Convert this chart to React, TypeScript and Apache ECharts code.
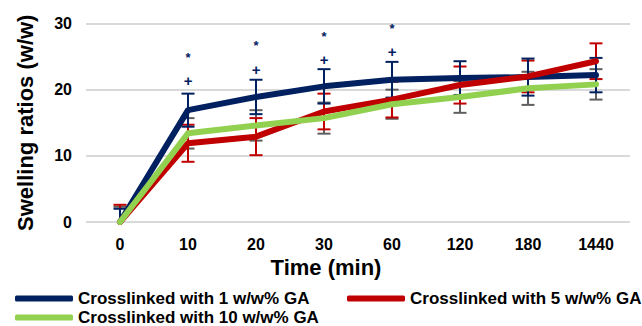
import React, { useEffect, useRef } from "react";
import * as echarts from "echarts";

const categories = ["0", "10", "20", "30", "60", "120", "180", "1440"];
const seriesNames = [
  "Crosslinked with 1 w/w% GA",
  "Crosslinked with 5 w/w% GA",
  "Crosslinked with 10 w/w% GA",
];
const ga1 = [0, 16.9, 18.9, 20.5, 21.5, 21.75, 21.9, 22.2];
const ga5 = [0, 11.9, 12.9, 16.7, 18.5, 20.7, 22.0, 24.3];
const ga10 = [0, 13.4, 14.6, 15.7, 17.8, 18.9, 20.2, 20.8];
const err1 = [2.0, 2.5, 2.6, 2.6, 2.7, 2.55, 2.8, 2.6];
const err5 = [2.6, 2.8, 2.8, 2.7, 2.7, 2.8, 2.4, 2.7];
const err10 = [2.3, 2.3, 2.3, 2.35, 2.2, 2.4, 2.5, 2.3];
const plusY = [null, 21.45, 23.1, 24.6, 25.7, null, null, null];
const starY = [null, 24.9, 26.6, 28.1, 29.3, null, null, null];
const yTicks = [0, 10, 20, 30];

const FONT = "Liberation Sans, Arial, sans-serif";
const colors = ["#002060", "#C00000", "#92D050"];
const errColors = ["#002060", "#C00000", "#5f5f5f"];

function errSeries(values: number[], errs: number[], color: string, idx: number) {
  return {
    type: "custom",
    name: "err" + idx,
    z: 1,
    silent: true,
    data: values.map((v, i) => [i, v, errs[i]]),
    renderItem: (params: any, api: any) => {
      const x = api.value(0);
      const v = api.value(1);
      const e = api.value(2);
      const hi = api.coord([x, v + e]);
      const lowVal = v - e;
      const low = api.coord([x, Math.max(lowVal, 0)]);
      const cw = 6.5;
      const st = { stroke: color, lineWidth: 2 };
      const children: any[] = [
        { type: "line", shape: { x1: hi[0], y1: hi[1], x2: low[0], y2: low[1] }, style: st },
        { type: "line", shape: { x1: hi[0] - cw, y1: hi[1], x2: hi[0] + cw, y2: hi[1] }, style: st },
      ];
      if (lowVal >= 0) {
        children.push({ type: "line", shape: { x1: low[0] - cw, y1: low[1], x2: low[0] + cw, y2: low[1] }, style: st });
      }
      return { type: "group", children };
    },
  };
}

function markSeries(vals: (number | null)[], text: string, size: number, name: string) {
  return {
    type: "custom",
    name,
    z: 5,
    silent: true,
    data: vals.map((v, i) => (v == null ? null : [i, v])).filter((d) => d !== null),
    renderItem: (params: any, api: any) => {
      const p = api.coord([api.value(0), api.value(1)]);
      return {
        type: "text",
        x: p[0],
        y: p[1],
        style: {
          text,
          fill: "#002060",
          font: `bold ${size}px ${FONT}`,
          align: "center",
          verticalAlign: "middle",
        },
      };
    },
  };
}

function lineSeries(name: string, data: number[], color: string, z: number) {
  return {
    type: "line",
    name,
    data,
    z,
    symbol: "none",
    lineStyle: { color, width: 6, cap: "round", join: "round" },
    itemStyle: { color },
  };
}

export default function App() {
  const ref = useRef<HTMLDivElement>(null);
  useEffect(() => {
    if (!ref.current) return;
    const chart = echarts.init(ref.current, null, { renderer: "svg" });
    const legendCommon = {
      orient: "horizontal",
      icon: "roundRect",
      itemWidth: 58,
      itemHeight: 6,
      itemGap: 5,
      padding: 0,
      textStyle: { fontFamily: FONT, fontWeight: "bold", fontSize: 17, color: "#000", lineHeight: 17 },
    };
    chart.setOption({
      animation: false,
      color: colors,
      grid: { left: 86, right: 12, top: 23.5, bottom: 104 },
      legend: [
        { ...legendCommon, left: 15, top: 290, data: [seriesNames[0]] },
        { ...legendCommon, left: 347, top: 290, data: [seriesNames[1]] },
        { ...legendCommon, left: 15, top: 309, data: [seriesNames[2]] },
      ],
      xAxis: {
        type: "category",
        data: categories,
        boundaryGap: true,
        axisLine: { show: false },
        axisTick: { show: false },
        axisLabel: { fontFamily: FONT, fontWeight: "bold", fontSize: 16, color: "#000", margin: 14 },
        name: "Time (min)",
        nameLocation: "middle",
        nameGap: 30,
        nameTextStyle: { fontFamily: FONT, fontWeight: "bold", fontSize: 22, color: "#000", padding: [0, 64, 0, 0] },
      },
      yAxis: {
        type: "value",
        min: yTicks[0],
        max: yTicks[yTicks.length - 1],
        interval: 10,
        axisLine: { show: false },
        axisTick: { show: false },
        splitLine: { lineStyle: { color: "#d9d9d9", width: 2 } },
        axisLabel: { fontFamily: FONT, fontWeight: "bold", fontSize: 16, color: "#000", margin: 14 },
        name: "Swelling ratios (w/w)",
        nameLocation: "middle",
        nameGap: 50,
        nameRotate: 90,
        nameTextStyle: { fontFamily: FONT, fontWeight: "bold", fontSize: 22, color: "#000" },
      },
      series: [
        errSeries(ga10, err10, errColors[2], 2),
        errSeries(ga5, err5, errColors[1], 1),
        errSeries(ga1, err1, errColors[0], 0),
        lineSeries(seriesNames[0], ga1, colors[0], 2),
        lineSeries(seriesNames[1], ga5, colors[1], 3),
        lineSeries(seriesNames[2], ga10, colors[2], 4),
        markSeries(plusY, "+", 15, "plus"),
        markSeries(starY, "*", 13, "star"),
      ],
    });
    return () => chart.dispose();
  }, []);
  return (
    <div
      ref={ref}
      style={{ position: "fixed", left: 0, top: 0, width: 642, height: 326, background: "#fff" }}
    />
  );
}
